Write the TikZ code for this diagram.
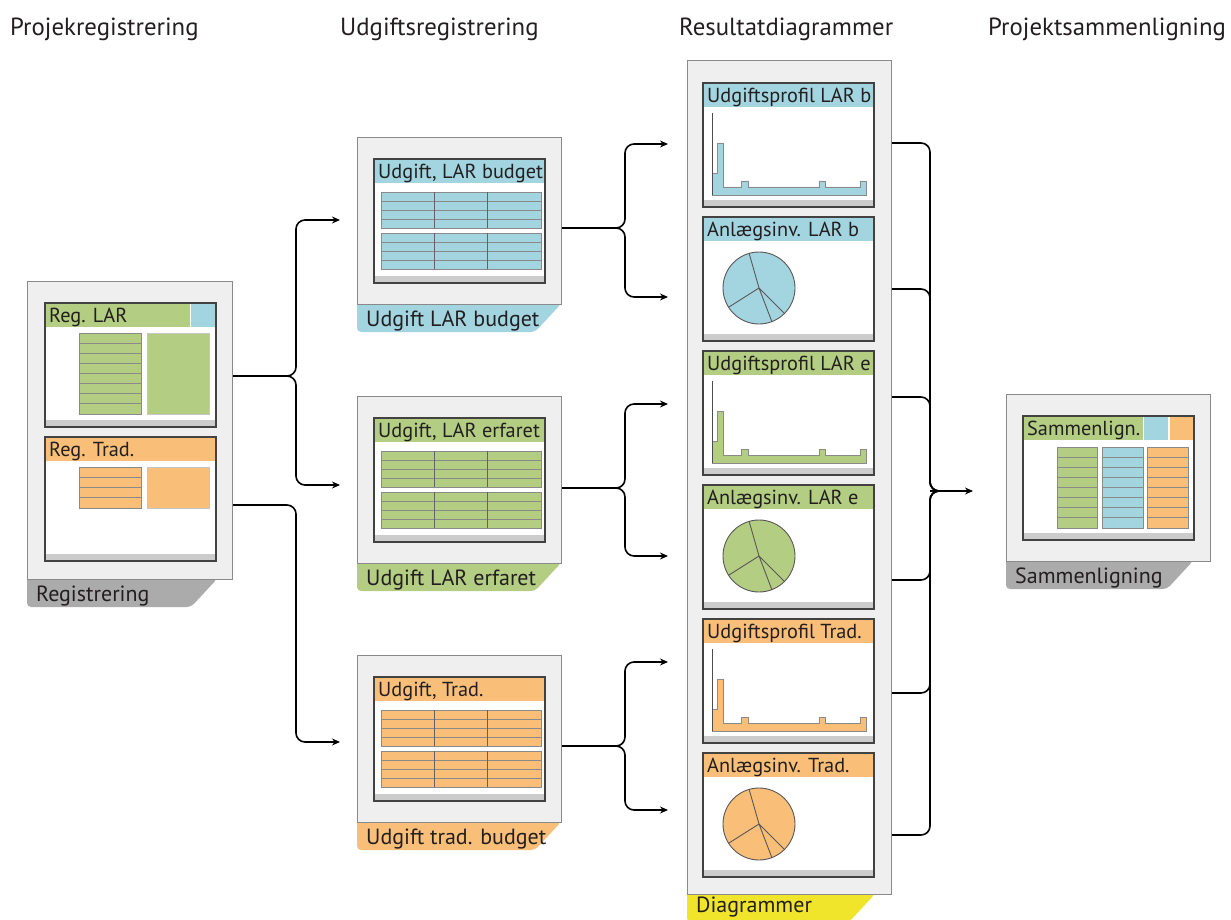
\documentclass[tikz,border=0pt]{standalone}
\usepackage{fontspec}
\setmainfont{PT Sans}
\usetikzlibrary{arrows.meta}
\definecolor{cblue}{HTML}{A3D5E0}
\definecolor{cgreen}{HTML}{B3CD82}
\definecolor{corange}{HTML}{F9BF78}
\definecolor{cyellow}{HTML}{F0E52A}
\definecolor{ctab}{HTML}{ABABAB}
\definecolor{cbox}{HTML}{EFEFEF}
\definecolor{cfoot}{HTML}{CCCCCC}
\definecolor{cline}{HTML}{8A8A8A}
\definecolor{ctext}{HTML}{231F20}
\tikzset{
  outerbox/.style={draw=cline, fill=cbox, line width=1.1pt},
  panelline/.style={draw=ctext!85, line width=1.2pt},
  hdr/.style={anchor=west, inner sep=0pt, font=\fontsize{20.3}{22}\selectfont, text=ctext},
  tabtext/.style={anchor=west, inner sep=0pt, font=\fontsize{22}{24}\selectfont, text=ctext},
  title/.style={anchor=base west, inner sep=0pt, font=\fontsize{24.8}{27}\selectfont, text=ctext},
  tblline/.style={draw=cline, line width=0.8pt},
  conn/.style={draw=black, line width=1.6pt, rounded corners=9pt},
  arr/.style={conn, -{Stealth[length=8pt,width=7pt]}},
}
% panel frame: x, y, header drawing code, body drawing code
\newcommand\Panel[4]{%
  \begin{scope}[shift={(#1,#2)}]
    \fill[white] (0,0) rectangle (171,124);
    #3
    #4
    \fill[cfoot] (0,117) rectangle (171,124);
    \draw[panelline] (0,0) rectangle (171,124);
  \end{scope}}
% table: x1,y1,x2,y2,rows,color
\newcommand\Tbl[6]{%
  \fill[#6] (#1,#2) rectangle (#3,#4);
  \foreach \i in {1,...,\numexpr#5-1\relax}
    \draw[tblline] (#1,{#2+(#4-#2)*\i/#5}) -- (#3,{#2+(#4-#2)*\i/#5});
  \draw[tblline] (#1,#2) rectangle (#3,#4);}
% expense table: x1,y1,x2,y2,color (4 rows, 3 cols)
\newcommand\XTbl[5]{%
  \Tbl{#1}{#2}{#3}{#4}{4}{#5}
  \draw[draw=ctext!70, line width=0.9pt] ({#1+(#3-#1)/3},#2) -- ({#1+(#3-#1)/3},#4)
     ({#1+2*(#3-#1)/3},#2) -- ({#1+2*(#3-#1)/3},#4);}
% tab: [text offset] x,y (top), top width, color, text
\newcommand\Tab[6][17]{%
  \fill[#5, rounded corners=4pt] (#2,#3-8) -- (#2+#4,#3-8) -- (#2+#4,#3) -- (#2+#4-26,#3+28) -- (#2,#3+28) -- cycle;
  \node[tabtext] at (#2+9,#3+#1) {#6};}
% profile chart in panel coords
\newcommand\Profile[1]{%
  \fill[#1, draw=cline, line width=0.9pt] (9,90) -- (14,90) -- (14,60) -- (20,60) -- (20,104) -- (38,104) -- (38,98) -- (45,98) -- (45,104) -- (116,104) -- (116,98) -- (122,98) -- (122,104) -- (157,104) -- (157,98) -- (163,98) -- (163,112) -- (9,112) -- cycle;
  \draw[ctext!80, line width=0.9pt] (9,30) -- (9,112);}
\newcommand\Pie[1]{%
  \fill[#1, draw=ctext!75, line width=0.9pt] (56,71) circle (36pt);
  \draw[ctext!75, line width=0.9pt] (46,36) -- (56,71) -- (26,90) (56,71) -- (69,105) (56,71) -- (81,96);}
\newcommand\Hdr[2]{\fill[#1] (0,0) rectangle (171,24); \node[hdr] at (4,14) {#2};}

\begin{document}
\begin{tikzpicture}[x=1pt,y=-1pt]
\useasboundingbox (0,0) rectangle (1231,920);

% titles
\node[title] (t1) at (10,36) {Projekregistrering};
\node[title] (t2) at (340,36) {Udgiftsregistrering};
\node[title] (t3) at (679,36) {Resultatdiagrammer};
\node[title] (t4) at (988,36) {Projektsammenligning};

% ---------- Registrering ----------
\Tab{27}{579}{190}{ctab}{Registrering}
\node[outerbox, anchor=north west, minimum width=205pt, minimum height=298pt, inner sep=0pt] (reg) at (27,281) {};
\Panel{45}{303}{%
  \fill[cgreen] (0,0) rectangle (145,24); \fill[cblue] (146,0) rectangle (171,24);
  \node[hdr] at (4,14) {Reg. LAR};}{%
  \Tbl{34}{30}{96}{111}{8}{cgreen}
  \fill[cgreen] (102,30) rectangle (164,111); \draw[tblline, draw=cline!50] (102,30) rectangle (164,111);}
\Panel{45}{437}{\Hdr{corange}{Reg. Trad.}}{%
  \Tbl{34}{30}{96}{71}{4}{corange}
  \fill[corange] (102,30) rectangle (164,71); \draw[tblline, draw=cline!50] (102,30) rectangle (164,71);}

% ---------- Udgift boxes ----------
\Tab{357}{304}{204}{cblue}{Udgift LAR budget}
\node[outerbox, anchor=north west, minimum width=204pt, minimum height=167pt, inner sep=0pt] (ex1) at (357,137) {};
\Panel{374}{159}{\Hdr{cblue}{Udgift, LAR budget}}{%
  \XTbl{7}{33}{167}{69}{cblue} \XTbl{7}{74}{167}{110}{cblue}}

\Tab{357}{563}{204}{cgreen}{Udgift LAR erfaret}
\node[outerbox, anchor=north west, minimum width=204pt, minimum height=167pt, inner sep=0pt] (ex2) at (357,396) {};
\Panel{374}{418}{\Hdr{cgreen}{Udgift, LAR erfaret}}{%
  \XTbl{7}{33}{167}{69}{cgreen} \XTbl{7}{74}{167}{110}{cgreen}}

\Tab{357}{822}{204}{corange}{Udgift trad. budget}
\node[outerbox, anchor=north west, minimum width=204pt, minimum height=167pt, inner sep=0pt] (ex3) at (357,655) {};
\Panel{374}{677}{\Hdr{corange}{Udgift, Trad.}}{%
  \XTbl{7}{33}{167}{69}{corange} \XTbl{7}{74}{167}{110}{corange}}

% ---------- Diagrammer ----------
\Tab[13]{687}{894}{188}{cyellow}{Diagrammer}
\node[outerbox, anchor=north west, minimum width=204pt, minimum height=834pt, inner sep=0pt] (dia) at (687,60) {};
\Panel{703}{83}{\Hdr{cblue}{Udgiftsprofil LAR b}}{\Profile{cblue}}
\Panel{703}{217}{\Hdr{cblue}{Anlægsinv. LAR b}}{\Pie{cblue}}
\Panel{703}{351}{\Hdr{cgreen}{Udgiftsprofil LAR e}}{\Profile{cgreen}}
\Panel{703}{485}{\Hdr{cgreen}{Anlægsinv. LAR e}}{\Pie{cgreen}}
\Panel{703}{619}{\Hdr{corange}{Udgiftsprofil Trad.}}{\Profile{corange}}
\Panel{703}{753}{\Hdr{corange}{Anlægsinv. Trad.}}{\Pie{corange}}

% ---------- Sammenligning ----------
\Tab{1006}{561}{187}{ctab}{Sammenligning}
\node[outerbox, anchor=north west, minimum width=204pt, minimum height=167pt, inner sep=0pt] (cmp) at (1006,394) {};
\Panel{1023}{416}{%
  \fill[cgreen] (0,0) rectangle (120,24); \fill[cblue] (121,0) rectangle (145,24); \fill[corange] (147,0) rectangle (171,24);
  \node[hdr] at (4,14) {Sammenlign.};}{%
  \Tbl{34}{31}{74}{112}{8}{cgreen}
  \Tbl{79}{31}{120}{112}{8}{cblue}
  \Tbl{124}{31}{165}{112}{8}{corange}}

% ---------- connectors ----------
\coordinate (regA) at (reg.east |- 0,376);
\coordinate (regB) at (reg.east |- 0,505);
\coordinate (e1in) at (340,220);
\coordinate (e2in) at (340,485);
\coordinate (e3in) at (340,742);
\draw[arr] (regA) -| ([xshift=-44pt]e1in) -- (e1in);
\draw[arr] (regA) -| ([xshift=-44pt]e2in) -- (e2in);
\draw[arr] (regB) -| ([xshift=-44pt]e3in) -- (e3in);

\coordinate (x1) at (ex1.east |- 0,228);
\coordinate (x2) at (ex2.east |- 0,488);
\coordinate (x3) at (ex3.east |- 0,746);
\coordinate (d1a) at (668,144); \coordinate (d1b) at (668,297);
\coordinate (d2a) at (668,404); \coordinate (d2b) at (668,556);
\coordinate (d3a) at (668,662); \coordinate (d3b) at (668,810);
\foreach \s/\t in {x1/d1a, x1/d1b, x2/d2a, x2/d2b, x3/d3a, x3/d3b}
  \draw[arr] (\s) -| ([xshift=-43pt]\t) -- (\t);

\coordinate (jr) at (930,491);
\coordinate (cin) at (973,491);
\foreach \yy [count=\k] in {143,289,397,580,693,835}{
  \coordinate (o\k) at (dia.east |- 0,\yy);
  \draw[conn] (o\k) -| (jr) -- ++(14,0);}
\draw[arr] (jr) -- (cin);
\end{tikzpicture}
\end{document}
